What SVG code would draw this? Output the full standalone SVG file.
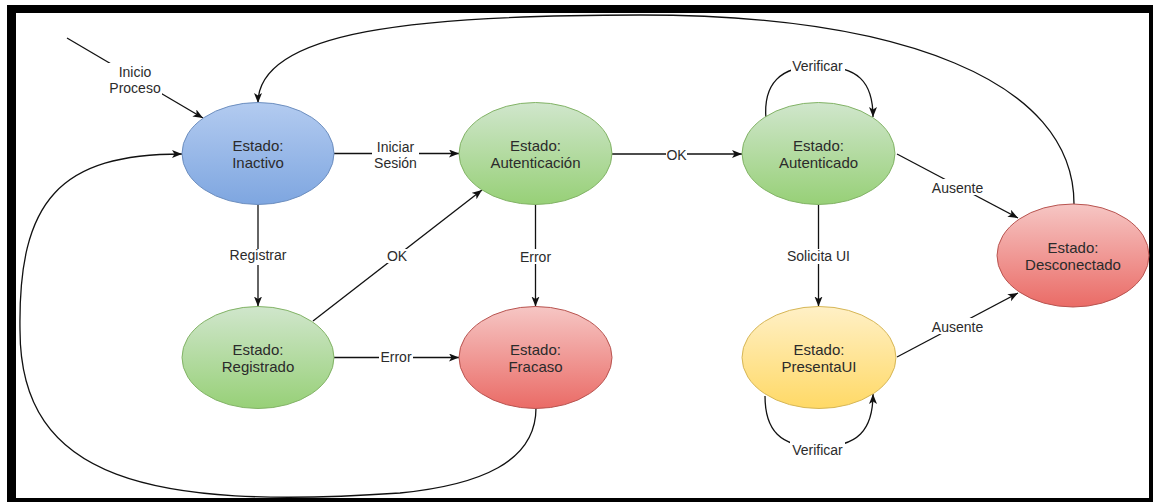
<svg xmlns="http://www.w3.org/2000/svg" width="1153" height="502" viewBox="0 0 1153 502">
  <style>
    .node-text { font-family: "Liberation Sans", Arial, sans-serif; font-size: 15px; fill: #2b2b2b; text-anchor: middle; }
    .edge-label { font-family: "Liberation Sans", Arial, sans-serif; font-size: 14px; fill: #2b2b2b; text-anchor: middle; }
    .edge { fill: none; stroke: #111; stroke-width: 1.3; }
    .arrow { marker-end: url(#arrowhead); }
    .label-bg { fill: #ffffff; }
  </style>
  <defs>
    <marker id="arrowhead" markerUnits="userSpaceOnUse" markerWidth="11" markerHeight="9" refX="10" refY="4" orient="auto">
      <path d="M0,0 L10,4 L0,8 L2.5,4 z" fill="#111"/>
    </marker>
    <linearGradient id="gBlue" x1="0" y1="0" x2="0" y2="1">
      <stop offset="0" stop-color="#b3cbf0"/>
      <stop offset="1" stop-color="#7ea6e0"/>
    </linearGradient>
    <linearGradient id="gGreen" x1="0" y1="0" x2="0" y2="1">
      <stop offset="0" stop-color="#d0e6cc"/>
      <stop offset="1" stop-color="#97d077"/>
    </linearGradient>
    <linearGradient id="gRed" x1="0" y1="0" x2="0" y2="1">
      <stop offset="0" stop-color="#f6c6c4"/>
      <stop offset="1" stop-color="#ea6b66"/>
    </linearGradient>
    <linearGradient id="gYellow" x1="0" y1="0" x2="0" y2="1">
      <stop offset="0" stop-color="#fff0c6"/>
      <stop offset="1" stop-color="#ffd966"/>
    </linearGradient>
  </defs>

  <!-- page background and thick black frame -->
  <rect x="0" y="0" width="1153" height="502" fill="#ffffff"/>
  <path d="M7,5 H1160 V510 H7 Z M16,13 V498 H1149 V13 Z" fill="#000" fill-rule="evenodd"/>

  <!-- connectors -->
  <g id="connectors">
    <!-- initial transition -->
    <path class="edge arrow" d="M67,38 L203,118"/>
    <!-- Inactivo -> Autenticacion -->
    <path class="edge arrow" d="M334,153.5 L459,153.5"/>
    <!-- Autenticacion -> Autenticado -->
    <path class="edge arrow" d="M612,154 L742,154"/>
    <!-- Inactivo -> Registrado -->
    <path class="edge arrow" d="M258,204.5 L258,306.5"/>
    <!-- Registrado -> Autenticacion -->
    <path class="edge arrow" d="M313,321 L482,190"/>
    <!-- Registrado -> Fracaso -->
    <path class="edge arrow" d="M334,357.5 L459,357.5"/>
    <!-- Autenticacion -> Fracaso -->
    <path class="edge arrow" d="M535.5,204.5 L535.5,306.5"/>
    <!-- Autenticado -> PresentaUI -->
    <path class="edge arrow" d="M818.5,204.5 L818.5,306.5"/>
    <!-- Autenticado self loop -->
    <path class="edge arrow" d="M766,119 C763,84 780,66 818,66 C858,66 873,82 873,117"/>
    <!-- PresentaUI self loop -->
    <path class="edge arrow" d="M765,396 C765,430 780,447 818,447 C858,447 873,430 873,394"/>
    <!-- Autenticado -> Desconectado -->
    <path class="edge arrow" d="M897,154 L1018,218"/>
    <!-- PresentaUI -> Desconectado -->
    <path class="edge arrow" d="M897,357 L1018,293"/>
    <!-- Desconectado -> Inactivo -->
    <path class="edge arrow" d="M1074,204 C1074,80 900,15 640,15 C420,15 258,30 258,103"/>
    <!-- Fracaso -> Inactivo -->
    <path class="edge arrow" d="M536,408 C536,462 480,485 400,493 C150,510 20,480 20,330 C18,200 60,154 182,154"/>

    <!-- labels -->
    <rect class="label-bg" x="108" y="63" width="54" height="34"/>
    <text class="edge-label" x="135" y="77">Inicio</text>
    <text class="edge-label" x="135" y="93">Proceso</text>

    <rect class="label-bg" x="372" y="139" width="47" height="32"/>
    <text class="edge-label" x="395.5" y="151.5">Iniciar</text>
    <text class="edge-label" x="395.5" y="168">Sesión</text>

    <rect class="label-bg" x="666" y="148" width="21" height="13"/>
    <text class="edge-label" x="676.5" y="159.5">OK</text>

    <rect class="label-bg" x="228" y="249" width="60" height="16"/>
    <text class="edge-label" x="258" y="260">Registrar</text>

    <rect class="label-bg" x="386" y="249" width="22" height="14"/>
    <text class="edge-label" x="397" y="261">OK</text>

    <rect class="label-bg" x="379" y="351" width="34" height="14"/>
    <text class="edge-label" x="396" y="362">Error</text>

    <rect class="label-bg" x="518" y="249" width="35" height="15"/>
    <text class="edge-label" x="535.5" y="261.5">Error</text>

    <rect class="label-bg" x="783" y="249" width="71" height="15"/>
    <text class="edge-label" x="818.5" y="261">Solicita UI</text>

    <rect class="label-bg" x="791" y="59" width="54" height="14"/>
    <text class="edge-label" x="817.5" y="70.5">Verificar</text>

    <rect class="label-bg" x="790" y="441" width="55" height="16"/>
    <text class="edge-label" x="817.5" y="454.5">Verificar</text>

    <rect class="label-bg" x="930" y="179" width="55" height="16"/>
    <text class="edge-label" x="957.5" y="192.5">Ausente</text>

    <rect class="label-bg" x="930" y="318" width="55" height="16"/>
    <text class="edge-label" x="957.5" y="331.5">Ausente</text>
  </g>

  <!-- states -->
  <g id="inactivo">
    <ellipse cx="258" cy="153.5" rx="76" ry="51" fill="url(#gBlue)" stroke="#6c8ebf"/>
    <text class="node-text" x="258" y="151">Estado:</text>
    <text class="node-text" x="258" y="168">Inactivo</text>
  </g>
  <g id="autenticacion">
    <ellipse cx="535.5" cy="153.5" rx="76.5" ry="51" fill="url(#gGreen)" stroke="#82b366"/>
    <text class="node-text" x="535.5" y="151">Estado:</text>
    <text class="node-text" x="535.5" y="168">Autenticación</text>
  </g>
  <g id="autenticado">
    <ellipse cx="818.5" cy="153.5" rx="76.5" ry="51" fill="url(#gGreen)" stroke="#82b366"/>
    <text class="node-text" x="818.5" y="151">Estado:</text>
    <text class="node-text" x="818.5" y="168">Autenticado</text>
  </g>
  <g id="registrado">
    <ellipse cx="258" cy="357.5" rx="76" ry="51" fill="url(#gGreen)" stroke="#82b366"/>
    <text class="node-text" x="258" y="355">Estado:</text>
    <text class="node-text" x="258" y="372">Registrado</text>
  </g>
  <g id="fracaso">
    <ellipse cx="535.5" cy="357.5" rx="76.5" ry="51" fill="url(#gRed)" stroke="#b85450"/>
    <text class="node-text" x="535.5" y="355">Estado:</text>
    <text class="node-text" x="535.5" y="372">Fracaso</text>
  </g>
  <g id="presentaui">
    <ellipse cx="819" cy="357.5" rx="77" ry="51" fill="url(#gYellow)" stroke="#d6b656"/>
    <text class="node-text" x="819" y="355">Estado:</text>
    <text class="node-text" x="819" y="372">PresentaUI</text>
  </g>
  <g id="desconectado">
    <ellipse cx="1073" cy="255.5" rx="76" ry="51.5" fill="url(#gRed)" stroke="#b85450"/>
    <text class="node-text" x="1073" y="253">Estado:</text>
    <text class="node-text" x="1073" y="270">Desconectado</text>
  </g>
</svg>
